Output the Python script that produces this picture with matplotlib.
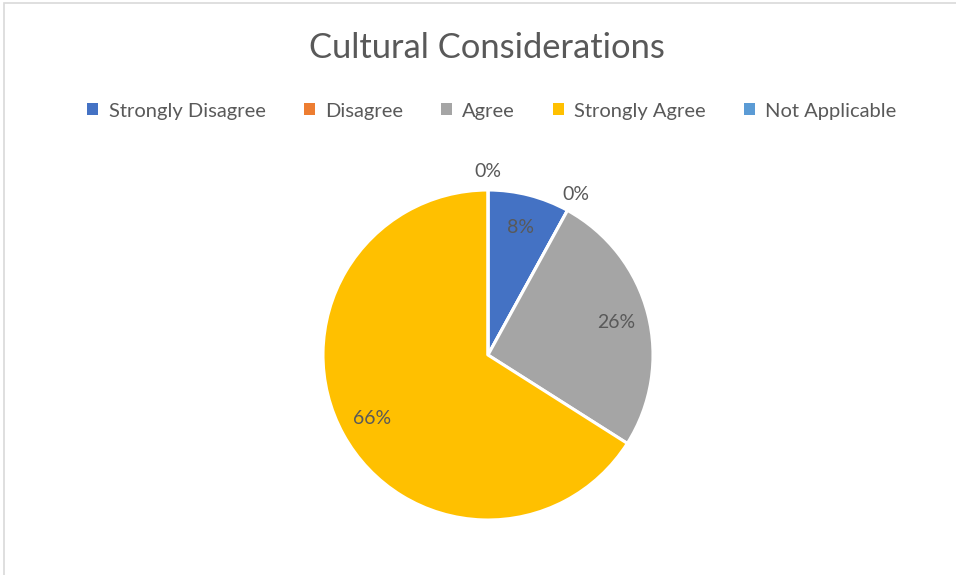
import matplotlib
matplotlib.use('Agg')
import matplotlib.pyplot as plt
from matplotlib.patches import Patch, Rectangle
import numpy as np

categories = ['Strongly Disagree', 'Disagree', 'Agree', 'Strongly Agree', 'Not Applicable']
shares = [8, 0, 26, 66, 0]
colors = ['#4472C4', '#ED7D31', '#A5A5A5', '#FFC000', '#5B9BD5']

TEXT = '#595959'
plt.rcParams['font.family'] = ['Lato', 'DejaVu Sans']

W, H = 956, 575
fig = plt.figure(figsize=(W / 100, H / 100), dpi=100)

# chart frame (light grey border, partly outside the canvas)
fig.patches.append(Rectangle((4 / W, -0.1), 1.2, (H - 3) / H + 0.1,
                             transform=fig.transFigure, fill=False,
                             edgecolor='#D9D9D9', linewidth=1.2))

cx, cy, r = 488, 355, 165
ax = fig.add_axes([(cx - r) / W, (H - cy - r) / H, 2 * r / W, 2 * r / H])
wedges, _ = ax.pie(shares, colors=colors, startangle=90, counterclock=False,
                   radius=1.0, wedgeprops=dict(edgecolor='white', linewidth=2.2))
ax.set_xlim(-1, 1)
ax.set_ylim(-1, 1)
ax.set_aspect('equal')
ax.axis('off')

for w, v in zip(wedges, shares):
    mid = np.deg2rad((w.theta1 + w.theta2) / 2)
    dist = 0.80 if v > 0 else 1.11
    ax.text(dist * np.cos(mid), dist * np.sin(mid), f'{v}%', ha='center', va='center',
            fontsize=14, color=TEXT, clip_on=False)

fig.text(487 / W, 1 - 48 / H, 'Cultural Considerations', ha='center', va='center',
         fontsize=24.8, color=TEXT)

handles = [Patch(facecolor=c, edgecolor='none') for c in colors]
fig.legend(handles, categories, loc='center', bbox_to_anchor=(492 / W, 1 - 111 / H),
           ncol=5, frameon=False, fontsize=14.5, labelcolor=TEXT,
           handlelength=0.55, handleheight=0.55, handletextpad=0.5, columnspacing=1.9)

fig.savefig('out.png', dpi=100, facecolor='white')
